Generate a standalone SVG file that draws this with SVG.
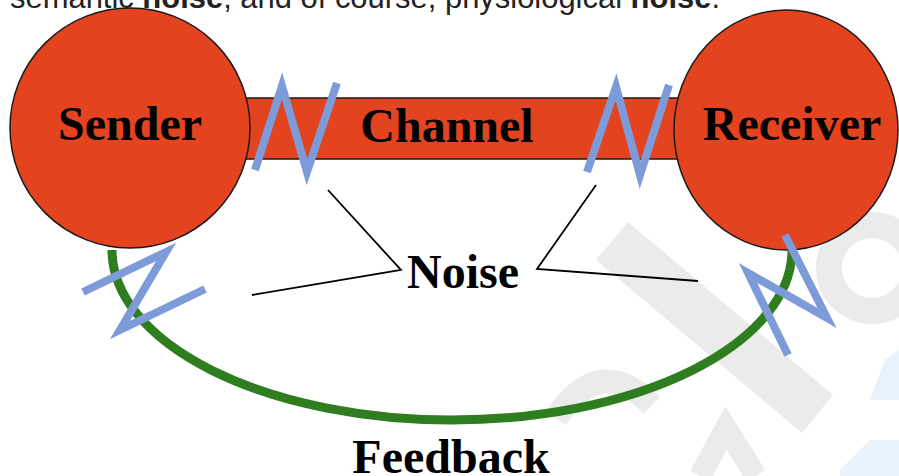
<svg xmlns="http://www.w3.org/2000/svg" width="899" height="476" viewBox="0 0 899 476">
<style>
.lbl{font-family:"Liberation Serif","Times New Roman",serif;font-weight:bold;font-size:48px;fill:#000;text-anchor:middle}
.red{fill:#e4431f;stroke:#1a1a1a;stroke-width:1.5}
.zig{fill:none;stroke:#7d9bd8;stroke-width:8;stroke-linejoin:miter;stroke-linecap:butt}
.pointer{fill:none;stroke:#000;stroke-width:1.8}
.wm{fill:#ebebeb}
.wms{fill:none;stroke:#ebebeb}
.wmb{fill:#e6f3fc}
</style>
<rect width="899" height="476" fill="#fff"/>
<g id="watermark">
<polygon class="wm" points="628,222 833,395 802,433 596,260"/>
<circle class="wms" cx="872" cy="268" r="43" stroke-width="26"/>
<path class="wms" d="M556,418 Q600,352 652,405" stroke-width="24"/>
<path class="wms" d="M700,476 L726,428 L756,476" stroke-width="22"/>
<polygon class="wmb" points="885,360 899,350 899,400 870,400"/>
<polygon class="wmb" points="840,470 870,440 899,440 899,476 840,476"/>
</g>
<text x="10" y="8" font-family="Liberation Sans, Arial, sans-serif" font-size="31" fill="#222" textLength="710" lengthAdjust="spacingAndGlyphs">semantic <tspan font-weight="bold">noise</tspan>, and of course, physiological <tspan font-weight="bold">noise</tspan>.</text>
<g id="connectors">
<path id="feedback-arc" d="M 112 250 A 340 170 0 0 0 792 250" fill="none" stroke="#2e7d1f" stroke-width="9"/>
<path class="pointer" d="M328,190 L401,270 L252,295"/>
<path class="pointer" d="M596,185 L537,269 L698,281"/>
</g>
<g id="channel">
<rect class="red" x="240" y="98" width="440" height="61"/>
<text class="lbl" x="447" y="142">Channel</text>
</g>
<g id="sender">
<circle class="red" cx="130" cy="128" r="120"/>
<text class="lbl" x="130" y="140">Sender</text>
</g>
<g id="receiver">
<ellipse class="red" cx="786" cy="130" rx="112" ry="120"/>
<text class="lbl" x="792" y="140">Receiver</text>
</g>
<g id="noise-zigzags">
<polyline class="zig" points="255,170 282,86 307,172 337,83"/>
<polyline class="zig" points="587,172 616,87 640,175 669,85"/>
<polyline class="zig" points="83,292 166,252 120,330 205,289"/>
<polyline class="zig" points="785,235 827,318 748,273 788,355"/>
</g>
<g id="noise">
<text class="lbl" x="463" y="288">Noise</text>
</g>
<g id="feedback">
<text class="lbl" x="451" y="473">Feedback</text>
</g>
</svg>
